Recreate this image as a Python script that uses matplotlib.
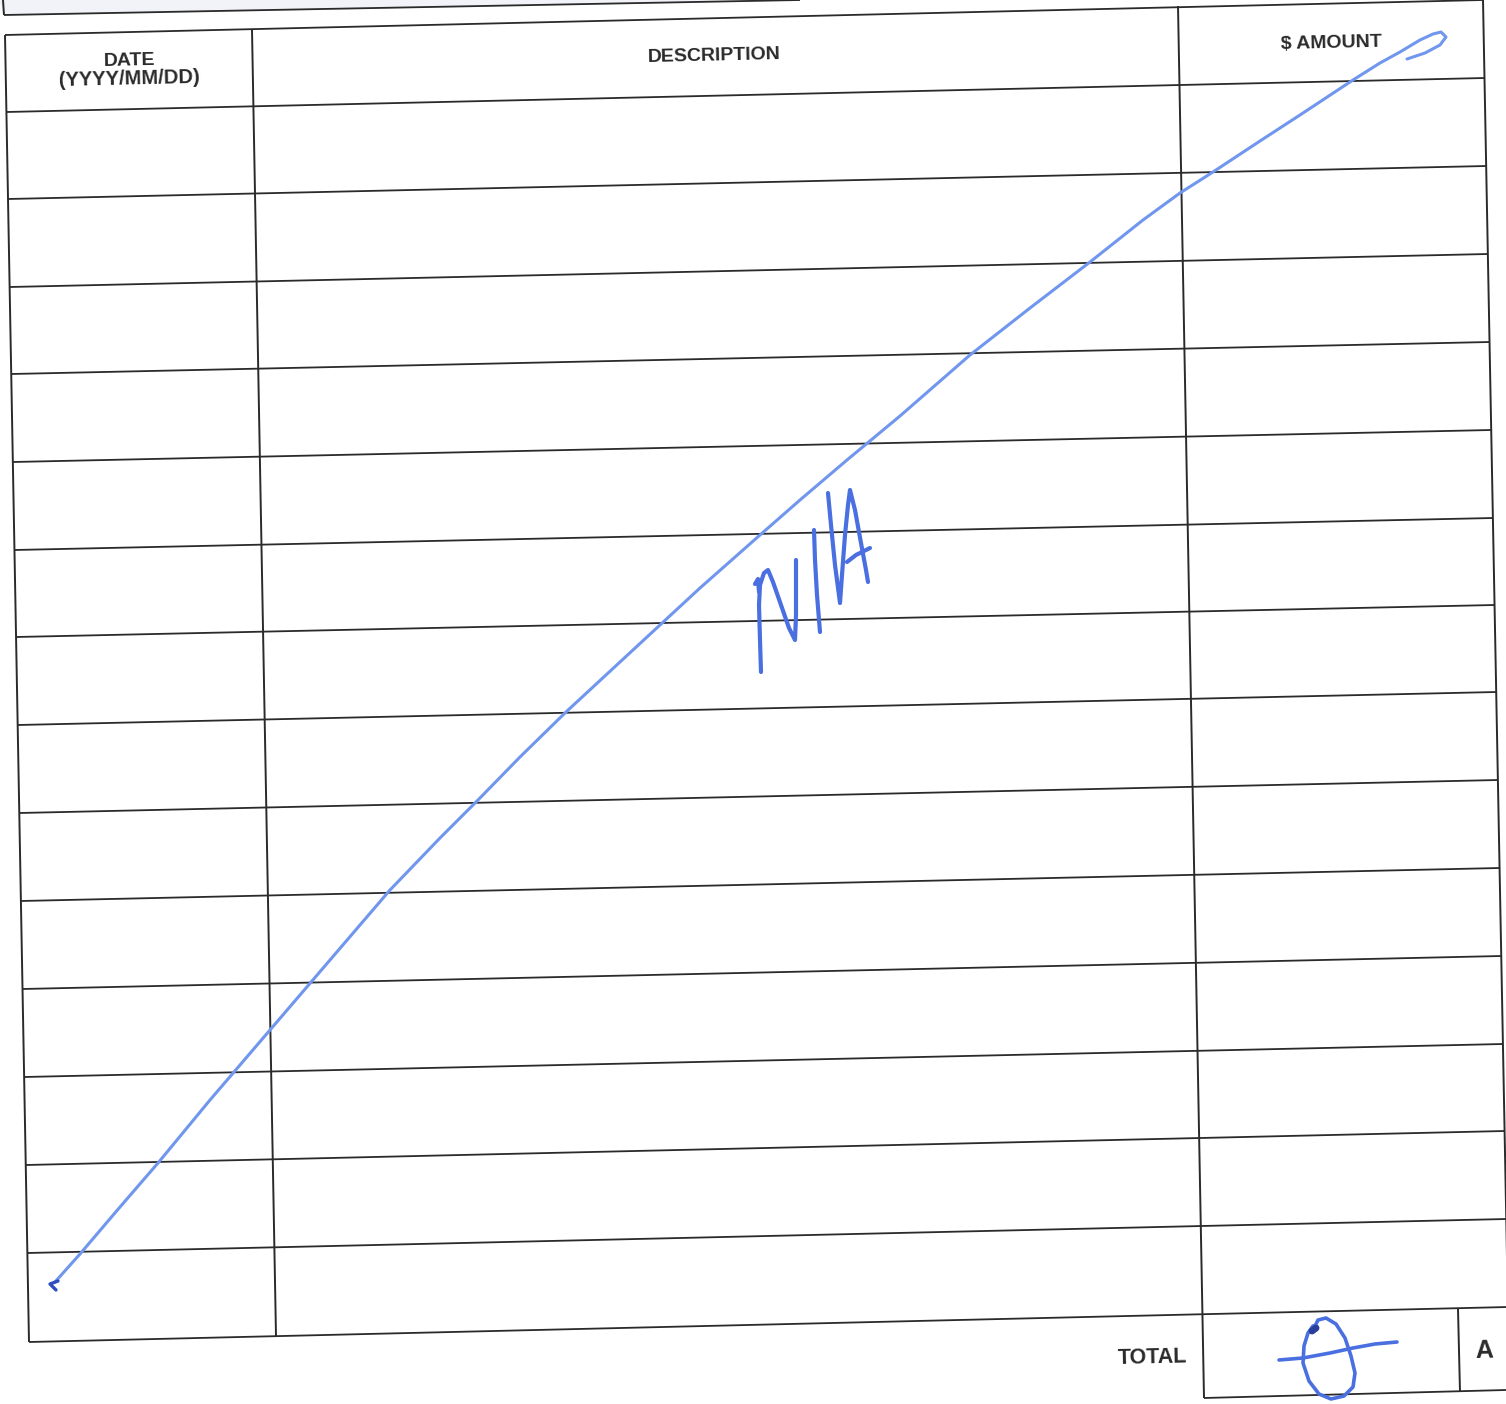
import numpy as np
import matplotlib.pyplot as plt

# --- scanned form geometry (pixel coordinates of the 1506x1404 page) ---
W, H = 1506, 1404

# horizontal rules: y at the left border and y at the right border
row_y_left = [35, 112, 199, 287, 374, 462, 550, 637, 725, 813, 901, 989, 1077, 1165, 1253, 1342]
row_y_right = [0, 78, 166, 254, 342, 430, 518, 605, 692, 780, 868, 956, 1044, 1131, 1219, 1307]

# vertical rules: (x_top, y_top, x_bottom, y_bottom)
col_lines = [
    (5, 35, 29, 1342),      # left border
    (252, 30, 276, 1336),   # date | description
    (1178, 6, 1204, 1398),  # description | amount
    (1483, 0, 1508, 1310),  # right border
    (1458, 1309, 1460, 1392),  # total | A
    (3, 0, 4, 15),          # box above the table
]
# other straight rules
extra_lines = [
    ((4, 15), (800, 0)),          # bottom of top box
    ((1204, 1398), (1506, 1390)),  # bottom of total box
]

# printed labels: text, x, y, size
labels = [
    ("DATE", 129, 61, 14),
    ("(YYYY/MM/DD)", 129, 79, 14.5),
    ("DESCRIPTION", 714, 56, 14),
    ("$ AMOUNT", 1331, 43, 14),
    ("TOTAL", 1152, 1358, 15.5),
    ("A", 1484, 1351, 18),
]

# handwritten strokes
diag_stroke = [(55, 1282), (80, 1254), (120, 1207), (158, 1163), (210, 1100), (270, 1030),
               (330, 960), (390, 890), (440, 838), (478, 800), (520, 757), (566, 712),
               (620, 662), (660, 625), (700, 588), (760, 535), (800, 500), (847, 460),
               (900, 416), (970, 355), (1030, 308), (1090, 262), (1143, 220), (1180, 193),
               (1213, 172), (1260, 141), (1300, 115), (1353, 80), (1380, 63), (1400, 52),
               (1420, 40), (1433, 34), (1441, 32), (1446, 37), (1440, 45), (1425, 53), (1407, 59)]
diag_hook = [(58, 1281), (50, 1284), (56, 1290)]

na_strokes = [
    [(755, 584), (758, 579), (759, 592)],
    [(761, 672), (760, 640), (759, 605), (760, 585), (764, 573), (768, 570), (773, 582),
     (781, 605), (789, 628), (795, 640), (796, 615), (796, 585), (796, 560)],
    [(814, 530), (815, 560), (817, 595), (820, 632)],
    [(828, 493), (831, 525), (835, 565), (840, 603), (842, 575), (845, 535), (848, 505),
     (850, 490), (855, 510), (861, 543), (866, 570), (868, 582)],
    [(847, 562), (856, 555), (864, 551), (870, 548)],
]

zero_loop = [(1313, 1330), (1318, 1320), (1326, 1318), (1336, 1324), (1345, 1338), (1351, 1356),
             (1355, 1373), (1353, 1387), (1344, 1396), (1331, 1399), (1319, 1394), (1309, 1381),
             (1303, 1363), (1304, 1346), (1308, 1333), (1313, 1326)]
zero_bar = [(1279, 1360), (1303, 1358), (1330, 1353), (1353, 1348), (1375, 1344), (1397, 1342)]

INK = "#2a2a2a"
PEN_LIGHT = "#7096ee"
PEN = "#4a6fe0"

fig = plt.figure(figsize=(W / 100, H / 100), dpi=100)
ax = fig.add_axes([0, 0, 1, 1])
ax.set_xlim(0, W)
ax.set_ylim(H, 0)
ax.axis("off")

# faint shading of the cut-off box at the very top
ax.fill([0, 4, 800, 800, 0], [0, 15, 0, 0, 0], color="#f1f3f8", zorder=0)

# horizontal rules
for yl, yr in zip(row_y_left, row_y_right):
    xl = 5 + 0.0184 * (yl - 35)
    xr = 1483 + 0.0192 * yr
    ax.plot([xl, xr], [yl, yr], color=INK, lw=1.3, solid_capstyle="butt")

for x0, y0, x1, y1 in col_lines:
    ax.plot([x0, x1], [y0, y1], color=INK, lw=1.4, solid_capstyle="butt")

for (x0, y0), (x1, y1) in extra_lines:
    ax.plot([x0, x1], [y0, y1], color=INK, lw=1.3, solid_capstyle="butt")

for txt, x, y, size in labels:
    ax.text(x, y, txt, fontsize=size, fontweight="bold", family="Liberation Sans",
            color=INK, ha="center", va="center", rotation=1.3, rotation_mode="anchor")

# pen marks
pen_kw = dict(solid_capstyle="round", solid_joinstyle="round")
dx, dy = zip(*diag_stroke)
ax.plot(dx, dy, color=PEN_LIGHT, lw=2.2, **pen_kw)
hx, hy = zip(*diag_hook)
ax.plot(hx, hy, color="#2f4fc0", lw=2.4, **pen_kw)

for stroke in na_strokes:
    sx, sy = zip(*stroke)
    ax.plot(sx, sy, color=PEN, lw=3.0, **pen_kw)

zx, zy = zip(*zero_loop)
ax.plot(zx, zy, color=PEN, lw=2.6, **pen_kw)
bx, by = zip(*zero_bar)
ax.plot(bx, by, color=PEN, lw=2.6, **pen_kw)
ax.plot([1312, 1316], [1331, 1328], color="#2a3f9c", lw=5, **pen_kw)

fig.savefig("out.png", dpi=100, facecolor="white")
